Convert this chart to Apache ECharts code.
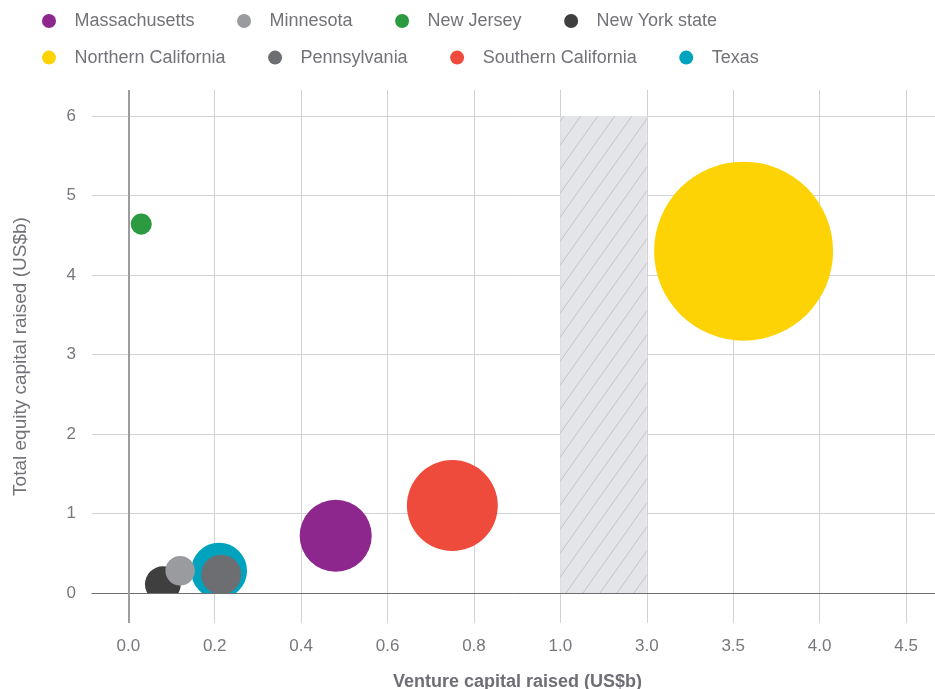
<!DOCTYPE html>
<html>
<head>
<meta charset="utf-8">
<script src="https://cdn.jsdelivr.net/npm/echarts@6/dist/echarts.min.js"></script>
<style>
html,body{margin:0;padding:0;background:#fff;}
#chart{width:935px;height:689px;}
</style>
</head>
<body>
<div id="chart"></div>
<script>
// ---- data ----
const categories = ['Massachusetts','Minnesota','New Jersey','New York state','Northern California','Pennsylvania','Southern California','Texas'];
const ventureCapital = [0.48, 0.12, 0.03, 0.08, 3.56, 0.215, 0.75, 0.21];
const equityCapital = [0.72, 0.28, 4.64, 0.11, 4.30, 0.23, 1.10, 0.28];
const bubbleValue = [16.2, 2.7, 1.4, 4.0, 100, 5.0, 25.8, 9.8];
const xTickValues = [0, 0.2, 0.4, 0.6, 0.8, 1.0, 3.0, 3.5, 4.0, 4.5];
const xTickLabels = ['0.0','0.2','0.4','0.6','0.8','1.0','3.0','3.5','4.0','4.5'];
const yTickLabels = ['0','1','2','3','4','5','6'];
const axisBreak = [1.0, 3.0];
const legendRows = [categories.slice(0, 4), categories.slice(4)];
const seriesColors = ['#8e278d','#9a9b9f','#2c9a40','#3f3f40','#fdd305','#6d6e72','#ef4b3d','#00a3be'];

// piecewise scale for the broken x axis: value -> tick index position
function xScale(v){
  const t = xTickValues;
  if (v <= t[0]) return (v - t[0]) / (t[1] - t[0]);
  for (let i = 0; i < t.length - 1; i++){
    if (v <= t[i+1]) return i + (v - t[i]) / (t[i+1] - t[i]);
  }
  const n = t.length - 1;
  return n + (v - t[n]) / (t[n] - t[n-1]);
}
// bubble diameter scale (area proportional to value)
function bubbleDiameter(v){ return 17.9 * Math.sqrt(v); }

// hatch pattern for the axis break band
const hatch = document.createElement('canvas');
hatch.width = 17; hatch.height = 24;
(function(){
  const c = hatch.getContext('2d');
  c.fillStyle = '#e4e5e8';
  c.fillRect(0,0,17,24);
  c.strokeStyle = '#c3c3c8';
  c.lineWidth = 1;
  c.beginPath();
  [-17,0,17].forEach(function(o){ c.moveTo(o,24); c.lineTo(o+17,0); });
  c.stroke();
})();

const FONT = 'Liberation Sans';
const xMin = -0.42, xMax = 9.335;
const yMax = 6.327;

const order = categories.map((c,i)=>i).sort((a,b)=>bubbleValue[b]-bubbleValue[a]);

const series = order.map(function(i){
  return {
    name: categories[i],
    type: 'custom',
    coordinateSystem: 'cartesian2d',
    xAxisIndex: 1, yAxisIndex: 1,
    clip: true,
    silent: true,
    data: [[xScale(ventureCapital[i]), equityCapital[i], bubbleValue[i]]],
    itemStyle: { color: seriesColors[i] },
    renderItem: function(params, api){
      const p = api.coord([api.value(0), api.value(1)]);
      return {
        type: 'circle',
        shape: { cx: p[0], cy: p[1], r: bubbleDiameter(api.value(2)) / 2 },
        style: { fill: seriesColors[i] }
      };
    }
  };
});

series.unshift({
  type: 'line', xAxisIndex: 1, yAxisIndex: 1, data: [], silent: true,
  markArea: {
    silent: true,
    itemStyle: { color: { image: hatch, repeat: 'repeat' } },
    data: [[{ xAxis: xScale(axisBreak[0]), yAxis: 0 }, { xAxis: xScale(axisBreak[1]), yAxis: Number(yTickLabels[yTickLabels.length-1]) }]]
  }
});
series.unshift({
  type: 'line', xAxisIndex: 0, yAxisIndex: 0, data: [], silent: true,
  markLine: {
    silent: true, symbol: ['none','none'], label: { show: false },
    lineStyle: { color: '#9d9d9f', width: 2, type: 'solid' },
    data: [{ xAxis: 0 }]
  }
});

const legendBase = {
  left: 42, padding: 0,
  itemWidth: 41, itemHeight: 14, itemGap: 42.5,
  icon: 'circle',
  selectedMode: false,
  textStyle: { fontFamily: FONT, fontSize: 18, color: '#727278' }
};

const chart = echarts.init(document.getElementById('chart'), null, { renderer: 'canvas' });
chart.setOption({
  animation: false,
  backgroundColor: '#ffffff',
  textStyle: { fontFamily: FONT },
  legend: legendRows.map(function(row, r){
    return Object.assign({}, legendBase, { data: row, top: 12 + r * 36.6 });
  }),
  grid: [
    { left: 92, right: 0, top: 90, bottom: 66, containLabel: false, outerBoundsMode: 'none' },
    { left: 92, right: 0, top: 90, bottom: 96, containLabel: false, outerBoundsMode: 'none' }
  ],
  xAxis: [
    {
      gridIndex: 0, type: 'value', min: xMin, max: xMax, minInterval: 1, maxInterval: 1,
      name: 'Venture capital raised (US$b)', nameLocation: 'middle', nameGap: 50,
      nameTextStyle: { fontFamily: FONT, fontSize: 18, fontWeight: 'bold', color: '#6e6e76', padding: [0,0,0,8] },
      axisLine: { show: false }, axisTick: { show: false },
      axisLabel: {
        fontFamily: FONT, fontSize: 17, color: '#77777d', margin: 15,
        showMinLabel: false, showMaxLabel: false,
        formatter: function(v){
          const r = Math.round(v);
          return (Math.abs(v - r) < 1e-6 && r >= 0 && r < xTickLabels.length) ? xTickLabels[r] : '';
        }
      },
      splitLine: { show: true, showMinLine: false, showMaxLine: false, lineStyle: { color: '#d2d2d4', width: 1 } }
    },
    {
      gridIndex: 1, type: 'value', min: xMin, max: xMax,
      axisLine: { show: true, onZero: false, lineStyle: { color: '#6e6e70', width: 1 } },
      axisTick: { show: false }, axisLabel: { show: false }, splitLine: { show: false }
    }
  ],
  yAxis: [
    { gridIndex: 0, type: 'value', min: 0, max: 1, show: true,
      name: 'Total equity capital raised (US$b)', nameLocation: 'middle', nameGap: 62, nameRotate: 90,
      nameTextStyle: { fontFamily: FONT, fontSize: 19, color: '#727278' },
      axisLine: { show: false }, axisTick: { show: false }, axisLabel: { show: false }, splitLine: { show: false } },
    {
      gridIndex: 1, type: 'value', min: 0, max: yMax, minInterval: 1, maxInterval: 1,
      axisLine: { show: false }, axisTick: { show: false },
      axisLabel: {
        fontFamily: FONT, fontSize: 17, color: '#77777d', margin: 16,
        padding: [6, 0, 0, 0],
        showMaxLabel: false,
        formatter: function(v){
          const r = Math.round(v);
          return (Math.abs(v - r) < 1e-6 && r >= 0 && r < yTickLabels.length) ? yTickLabels[r] : '';
        }
      },
      splitLine: { show: true, showMinLine: false, showMaxLine: false, lineStyle: { color: '#d2d2d4', width: 1 } }
    }
  ],
  series: series
});
</script>
</body>
</html>
